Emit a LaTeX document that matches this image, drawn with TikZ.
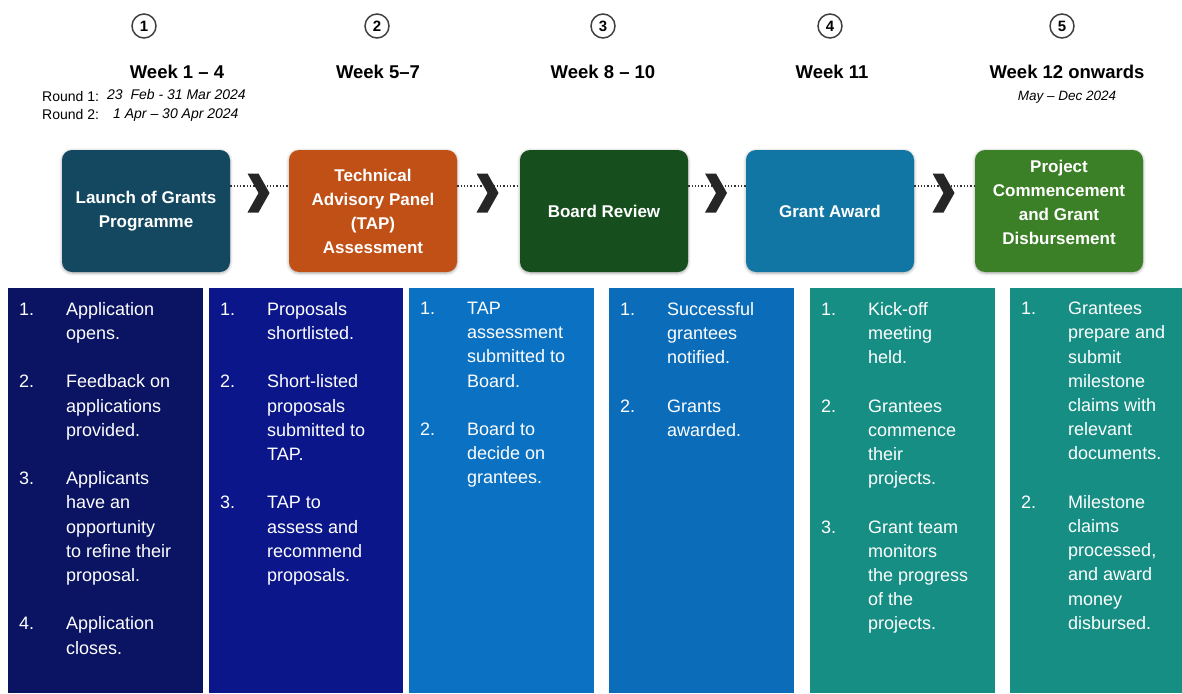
\documentclass[tikz,border=0pt]{standalone}
\usepackage{fontspec}
\setmainfont{Liberation Sans}
\usetikzlibrary{calc,shadows.blur}
\definecolor{launchblue}{RGB}{19,72,96}
\definecolor{taporange}{RGB}{192,80,22}
\definecolor{boardgreen}{RGB}{23,78,30}
\definecolor{awardblue}{RGB}{17,118,164}
\definecolor{projgreen}{RGB}{59,128,38}
\definecolor{colnavy}{RGB}{10,20,98}
\definecolor{colindigo}{RGB}{10,22,138}
\definecolor{colblue}{RGB}{11,113,194}
\definecolor{colbluetwo}{RGB}{11,109,186}
\definecolor{colteal}{RGB}{22,142,132}
\definecolor{chevgray}{RGB}{38,38,38}
\newcommand{\listno}[1]{\makebox[47pt][l]{#1}}
\newcommand{\listind}{\hspace*{47pt}}
\tikzset{
  chevron/.pic={\fill[chevgray] (-12,-19.5) -- (-1,-19.5) -- (10,0) -- (-1,19.5) -- (-12,19.5) -- (-1,0) -- cycle;}
}

\begin{document}
\begin{tikzpicture}[x=1pt,y=-1pt,
  stagebox/.style={rounded corners=10pt,minimum width=168pt,minimum height=122pt,text=white,align=center,
    font=\bfseries\fontsize{17}{24}\selectfont,
    blur shadow={shadow xshift=0pt,shadow yshift=-1pt,shadow blur radius=3pt,shadow opacity=35}},
  colbox/.style={anchor=north west,inner sep=0pt,outer sep=0pt,minimum height=405pt},
  coltext/.style={anchor=north west,inner sep=0pt,text=white,align=left,font=\fontsize{18}{24.2}\selectfont},
  weeklbl/.style={anchor=base,inner sep=0pt,font=\bfseries\fontsize{18.5}{22}\selectfont},
  numcirc/.style={circle,draw=black!75,line width=1.5pt,minimum size=24pt,inner sep=0pt,font=\bfseries\fontsize{15}{18}\selectfont},
  roundlbl/.style={anchor=base west,inner sep=0pt,font=\fontsize{14}{16}\selectfont},
  datelbl/.style={anchor=base west,inner sep=0pt,font=\itshape\fontsize{14}{16}\selectfont},
  dotline/.style={dotted,line width=1.3pt,black!80}]
  \useasboundingbox (0,0) rectangle (1182,693);

  % Step numbers and weeks
  \foreach \x/\wx/\n/\week in {144/177/1/Week 1 – 4, 377/378/2/Week 5–7, 603/603/3/Week 8 – 10, 830/832/4/Week 11, 1062/1067/5/Week 12 onwards} {
    \node[numcirc] (num\n) at (\x,26) {\n};
    \node[weeklbl] (week\n) at (\wx,78) {\week};
  }

  % Dates
  \node[roundlbl] (round1) at (42,101) {Round 1:};
  \node[datelbl] (date1) at (107,99) {23\ \ Feb - 31 Mar 2024};
  \node[roundlbl] (round2) at (42,119) {Round 2:};
  \node[datelbl] (date2) at (113,118) {1 Apr – 30 Apr 2024};
  \node[datelbl,anchor=base,font=\itshape\fontsize{13.5}{16}\selectfont] (date5) at (1067,100) {May – Dec 2024};

  % Stage boxes
  \foreach \x/\n/\c/\d/\t in {146/1/launchblue/4pt/{Launch of Grants\\Programme},
      373/2/taporange/0pt/{Technical\\Advisory Panel\\(TAP)\\Assessment},
      604/3/boardgreen/0pt/{Board Review},
      830/4/awardblue/0pt/{Grant Award},
      1059/5/projgreen/18pt/{Project\\Commencement\\and Grant\\Disbursement}} {
    \node[stagebox,fill=\c,text depth=\d] (stage\n) at (\x,211) {\t};
  }

  % Links between stages
  \foreach \a/\b in {1/2,2/3,3/4,4/5} {
    \draw[dotline] ([yshift=25pt]stage\a.east) -- ([yshift=25pt]stage\b.west);
    \path ($(stage\a.east)!0.5!(stage\b.west)$) ++(0,-18) pic {chevron};
  }

  % Columns
  \foreach \x/\w/\c/\n in {8/195/colnavy/1, 209/194/colindigo/2, 409/185/colblue/3, 609/185/colbluetwo/4, 810/185/colteal/5, 1010/172/colteal/6} {
    \node[colbox,fill=\c,minimum width=\w pt] (col\n) at (\x,288) {};
  }

  \node[coltext] (list1) at ([xshift=11pt,yshift=-14pt]col1.north west) {%
    \listno{1.}Application\\ \listind opens.\\[24.2pt]
    \listno{2.}Feedback on\\ \listind applications\\ \listind provided.\\[24.2pt]
    \listno{3.}Applicants\\ \listind have an\\ \listind opportunity\\ \listind to refine their\\ \listind proposal.\\[24.2pt]
    \listno{4.}Application\\ \listind closes.};
  \node[coltext] (list2) at ([xshift=11pt,yshift=-14pt]col2.north west) {%
    \listno{1.}Proposals\\ \listind shortlisted.\\[24.2pt]
    \listno{2.}Short-listed\\ \listind proposals\\ \listind submitted to\\ \listind TAP.\\[24.2pt]
    \listno{3.}TAP to\\ \listind assess and\\ \listind recommend\\ \listind proposals.};
  \node[coltext] (list3) at ([xshift=11pt,yshift=-14pt]col3.north west) {%
    \listno{1.}TAP\\ \listind assessment\\ \listind submitted to\\ \listind Board.\\[24.2pt]
    \listno{2.}Board to\\ \listind decide on\\ \listind grantees.};
  \node[coltext] (list4) at ([xshift=11pt,yshift=-14pt]col4.north west) {%
    \listno{1.}Successful\\ \listind grantees\\ \listind notified.\\[24.2pt]
    \listno{2.}Grants\\ \listind awarded.};
  \node[coltext] (list5) at ([xshift=11pt,yshift=-14pt]col5.north west) {%
    \listno{1.}Kick-off\\ \listind meeting\\ \listind held.\\[24.2pt]
    \listno{2.}Grantees\\ \listind commence\\ \listind their\\ \listind projects.\\[24.2pt]
    \listno{3.}Grant team\\ \listind monitors\\ \listind the progress\\ \listind of the\\ \listind projects.};
  \node[coltext] (list6) at ([xshift=11pt,yshift=-14pt]col6.north west) {%
    \listno{1.}Grantees\\ \listind prepare and\\ \listind submit\\ \listind milestone\\ \listind claims with\\ \listind relevant\\ \listind documents.\\[24.2pt]
    \listno{2.}Milestone\\ \listind claims\\ \listind processed,\\ \listind and award\\ \listind money\\ \listind disbursed.};
\end{tikzpicture}
\end{document}
